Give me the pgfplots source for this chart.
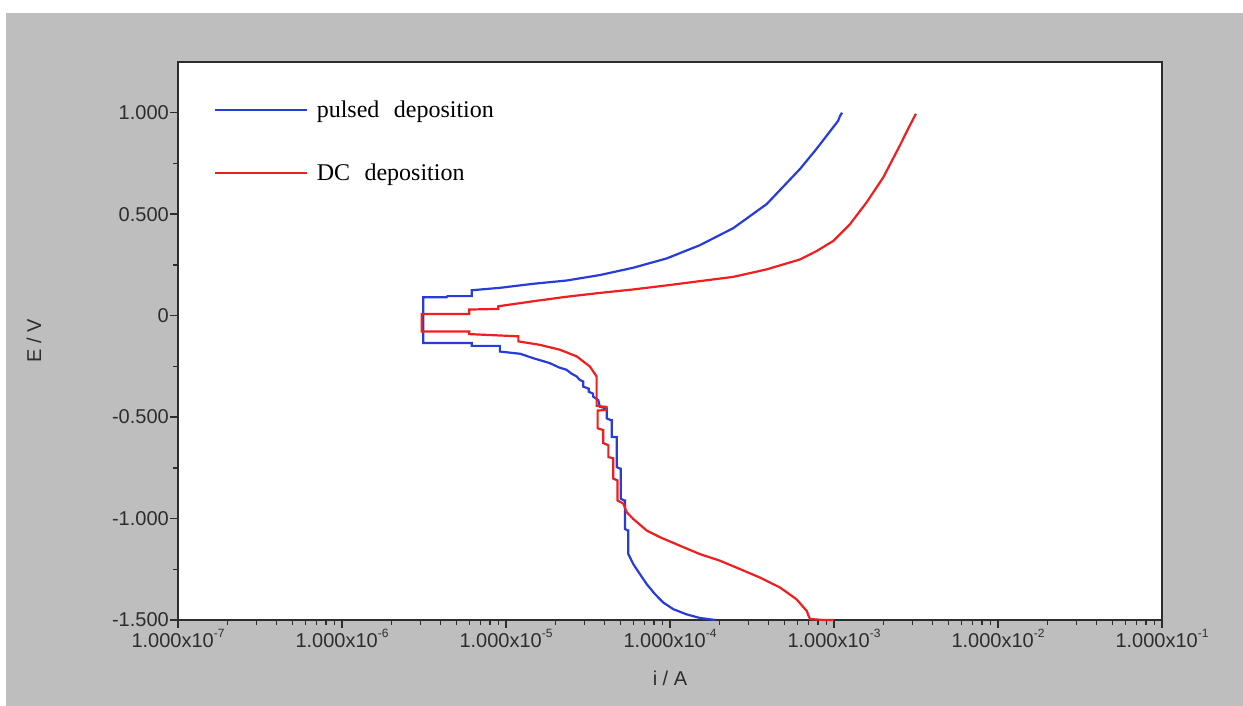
\documentclass[border=0pt]{standalone}
\usepackage{fontspec}
\setmainfont{Liberation Sans}
\newfontfamily\seriffont{Liberation Serif}
\usepackage{pgfplots}
\pgfplotsset{compat=1.18}
\definecolor{bg}{RGB}{190,190,190}
\definecolor{pblue}{RGB}{40,60,220}
\definecolor{pred}{RGB}{240,30,30}
\definecolor{frame}{RGB}{45,45,45}
\newcommand{\sci}[1]{1.000x10\raisebox{0.48em}{\fontsize{12}{12}\selectfont #1}}
\begin{document}
\begin{tikzpicture}
\fill[white] (0,0) rectangle (1243pt,706pt);
\fill[bg] (6pt,0) rectangle (1243pt,693pt);
\begin{axis}[
  at={(178pt,86pt)}, anchor=south west,
  width=984pt, height=558pt, scale only axis,
  xmode=log, log basis x=10, xmin=1e-7, xmax=1e-1,
  ymin=-1.5, ymax=1.25,
  clip=false,
  axis background/.style={fill=white},
  axis line style={frame, line width=1.4pt},
  tick align=outside, xtick pos=bottom, ytick pos=left,
  major tick length=8pt, minor tick length=5pt,
  major tick style={frame, line width=1.4pt},
  minor tick style={frame, line width=1.4pt},
  xtick={1e-7,1e-6,1e-5,1e-4,1e-3,1e-2,1e-1},
  xticklabels={\sci{-7},\sci{-6},\sci{-5},\sci{-4},\sci{-3},\sci{-2},\sci{-1}},
  minor xtick={2e-7,3e-7,4e-7,5e-7,6e-7,7e-7,8e-7,9e-7,
    2e-6,3e-6,4e-6,5e-6,6e-6,7e-6,8e-6,9e-6,
    2e-5,3e-5,4e-5,5e-5,6e-5,7e-5,8e-5,9e-5,
    2e-4,3e-4,4e-4,5e-4,6e-4,7e-4,8e-4,9e-4,
    2e-3,3e-3,4e-3,5e-3,6e-3,7e-3,8e-3,9e-3,
    2e-2,3e-2,4e-2,5e-2,6e-2,7e-2,8e-2,9e-2},
  ytick={-1.5,-1,-0.5,0,0.5,1},
  yticklabels={-1.500,-1.000,-0.500,0,0.500,1.000},
  minor ytick={-1.25,-0.75,-0.25,0.25,0.75},
  ticklabel style={font=\fontsize{20}{24}\selectfont, text=frame},
  xticklabel style={inner sep=0pt, yshift=-1pt},
  yticklabel style={inner sep=0pt, xshift=-1pt},
  xlabel={i / A}, ylabel={E / V},
  label style={font=\fontsize{20}{24}\selectfont, text=frame},
  xlabel style={at={(axis description cs:0.5,0)}, anchor=center, yshift=-58pt},
  ylabel style={at={(axis description cs:-0.1463,0.5)}, anchor=center},
  legend style={draw=none, fill=none, at={(axis description cs:0.036,0.934)}, anchor=north west,
    font=\seriffont\fontsize{24}{28}\selectfont, row sep=41pt, inner sep=0pt,
    nodes={inner sep=2pt}},
  legend cell align=left,
  legend image code/.code={\draw[#1] (0pt,0pt) -- (92pt,0pt);},
]
\addplot[pblue, line width=2.2pt] coordinates {
(1.90e-4,-1.500) (1.52e-4,-1.490) (1.26e-4,-1.472) (1.05e-4,-1.447) (9.10e-5,-1.414)
(8.11e-5,-1.373) (7.21e-5,-1.323) (6.56e-5,-1.274) (5.97e-5,-1.224) (5.65e-5,-1.185)
(5.57e-5,-1.175) (5.57e-5,-1.059) (5.52e-5,-1.059) (5.31e-5,-1.051) (5.31e-5,-0.911)
(5.24e-5,-0.911) (5.01e-5,-0.902) (5.01e-5,-0.754) (4.96e-5,-0.754) (4.73e-5,-0.746)
(4.73e-5,-0.598) (4.41e-5,-0.598) (4.41e-5,-0.515) (4.35e-5,-0.515) (4.11e-5,-0.506)
(4.11e-5,-0.457) (4.07e-5,-0.457) (3.74e-5,-0.449) (3.65e-5,-0.416) (3.40e-5,-0.399)
(3.40e-5,-0.385) (3.20e-5,-0.375) (3.20e-5,-0.360) (2.96e-5,-0.350) (2.96e-5,-0.325)
(2.80e-5,-0.315) (2.70e-5,-0.300) (2.50e-5,-0.285) (2.34e-5,-0.267) (2.10e-5,-0.255)
(1.85e-5,-0.234) (1.47e-5,-0.210) (1.22e-5,-0.188) (9.18e-6,-0.177) (9.18e-6,-0.149)
(6.18e-6,-0.149) (6.18e-6,-0.135) (3.13e-6,-0.135) (3.13e-6,0.091) (4.35e-6,0.091)
(4.40e-6,0.096) (6.18e-6,0.096) (6.18e-6,0.125) (9.18e-6,0.137) (1.47e-5,0.157)
(2.34e-5,0.173) (3.74e-5,0.200) (5.97e-5,0.236) (9.55e-5,0.282) (1.52e-4,0.347)
(2.43e-4,0.431) (3.89e-4,0.550) (6.21e-4,0.723) (7.83e-4,0.822) (9.90e-4,0.929)
(1.06e-3,0.960) (1.09e-3,0.985) (1.12e-3,1.000)
};
\addlegendentry{\hspace{7pt}pulsed\hspace{0.6em}deposition}
\addplot[pred, line width=2.2pt] coordinates {
(1.00e-3,-1.500) (8.61e-4,-1.500) (7.15e-4,-1.495) (7.00e-4,-1.480) (6.83e-4,-1.456)
(5.91e-4,-1.398) (4.69e-4,-1.340) (3.54e-4,-1.291) (2.67e-4,-1.249) (2.02e-4,-1.208)
(1.52e-4,-1.175) (1.15e-4,-1.134) (8.69e-5,-1.092) (7.21e-5,-1.059) (5.97e-5,-1.002)
(5.45e-5,-0.969) (5.19e-5,-0.926) (4.78e-5,-0.911) (4.78e-5,-0.812) (4.51e-5,-0.803)
(4.51e-5,-0.703) (4.21e-5,-0.697) (4.21e-5,-0.639) (3.92e-5,-0.628) (3.92e-5,-0.564)
(3.62e-5,-0.555) (3.62e-5,-0.468) (4.10e-5,-0.465) (4.10e-5,-0.450) (3.57e-5,-0.445)
(3.57e-5,-0.300) (3.25e-5,-0.251) (2.70e-5,-0.201) (2.13e-5,-0.168) (1.61e-5,-0.144)
(1.19e-5,-0.127) (1.19e-5,-0.102) (5.97e-6,-0.091) (5.97e-6,-0.078) (3.06e-6,-0.078)
(3.06e-6,0.008) (5.97e-6,0.008) (5.97e-6,0.030) (8.97e-6,0.033) (8.97e-6,0.046)
(1.47e-5,0.071) (2.34e-5,0.093) (3.74e-5,0.112) (5.97e-5,0.129) (9.55e-5,0.149)
(1.52e-4,0.170) (2.43e-4,0.191) (3.89e-4,0.228) (6.21e-4,0.277) (7.83e-4,0.318)
(9.90e-4,0.368) (1.25e-3,0.450) (1.58e-3,0.558) (2.00e-3,0.682) (2.52e-3,0.838)
(2.90e-3,0.937) (3.16e-3,0.995)
};
\addlegendentry{\hspace{7pt}DC\hspace{0.6em}deposition}
\end{axis}
\end{tikzpicture}
\end{document}
